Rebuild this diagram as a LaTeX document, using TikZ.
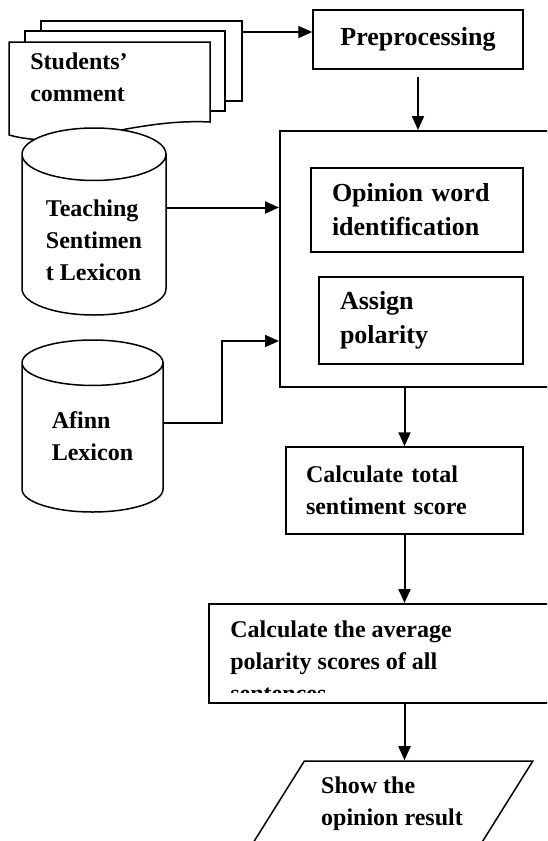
\documentclass[tikz,border=0pt]{standalone}
\usepackage{fontspec}
\setmainfont{Liberation Serif}
\usetikzlibrary{shapes.geometric,arrows.meta,positioning}

\begin{document}
\begin{tikzpicture}[
  x=0.5pt, y=-0.5pt,
  font=\fontsize{12}{16}\selectfont\bfseries,
  big/.style={font=\fontsize{13}{17}\selectfont\bfseries},
  stepbox/.style={draw, line width=0.75pt, fill=white, inner sep=0pt},
  txtbox/.style={stepbox, align=left, inner xsep=10.5pt},
  db/.style={draw, line width=0.75pt, fill=white, cylinder, shape border rotate=90, aspect=0.48,
             anchor=shape center, align=left},
  sheet/.style={draw, line width=0.75pt, fill=white},
  flow/.style={->, line width=1pt},
  >={Triangle[length=7pt,width=6pt]}
]
\useasboundingbox (0,0) rectangle (547,841);
\clip (0,0) rectangle (547,841);

% Input documents
\draw[sheet] (41,21) rectangle (242,101);
\draw[sheet] (25,31) rectangle (225,111);
\draw[sheet] (9,42) -- (210,42) -- (210,122) .. controls (130,118) and (70,152) .. (9,135) -- cycle;
\node[align=left] (docs) at (79,77.5) {Students’\\comment};
\coordinate (docout) at (242,32);

% Lexicons
\node[db, minimum width=72pt, minimum height=93.5pt] (teach) at (94,221.5) {Teaching\\Sentimen\\t Lexicon};
\node[db, minimum width=70.5pt, minimum height=86pt, text height=18.5pt] (afinn) at (92.5,426) {Afinn\\Lexicon};

% Processing steps
\node[stepbox, big, minimum width=105pt, minimum height=29.5pt] (prep) at (418,39.5) {Preprocessing};
\node[stepbox, anchor=north west, minimum width=160pt, minimum height=128pt] (core) at (279,130) {};
\node[txtbox, big, minimum width=106pt, minimum height=42pt, text width=85pt] (ident) at (417,210) {Opinion word\\identification};
\node[txtbox, big, minimum width=102pt, minimum height=43.5pt, text width=81pt] (assign) at (421,320.5) {Assign\\polarity};
\node[txtbox, inner xsep=10pt, minimum width=118.5pt, minimum height=43.5pt, text width=98.5pt] (total) at (404.5,490.5) {Calculate total\\sentiment score};
\node[stepbox, anchor=north west, minimum width=196pt, minimum height=49.5pt] (avg) at (208,603) {};
\begin{scope}
  \clip (avg.north west) rectangle ([yshift=5.5pt]avg.south east);
  \node[align=left, anchor=north west, inner sep=0pt] (avgtext) at ([xshift=11pt,yshift=-8.5pt]avg.north west) {Calculate the average\\polarity scores of all\\sentences};
\end{scope}

% Output
\node[draw, line width=0.75pt, trapezium, trapezium left angle=55, trapezium right angle=125,
      trapezium stretches=true, minimum width=141pt, minimum height=42.5pt, align=left] (show) at (392,803.5) {Show the\\opinion result};

% Arrows
\draw[flow] (docout) -- (docout -| prep.west);
\draw[flow] ([yshift=-3.5pt]prep.south) -- (prep.south |- core.north);
\draw[flow] ([yshift=16.5pt]teach.east) -- ([yshift=16.5pt]teach.east -| core.west);
\coordinate (bend) at (222,341);
\draw[flow] ([yshift=10pt]afinn.east) -| (bend) -- (bend -| core.west);
\draw[flow] (total.north |- core.south) -- (total.north);
\draw[flow] (total.south) -- (total.south |- avg.north);
\draw[flow] (total.south |- avg.south) -- (total.south |- show.north);
\end{tikzpicture}
\end{document}
